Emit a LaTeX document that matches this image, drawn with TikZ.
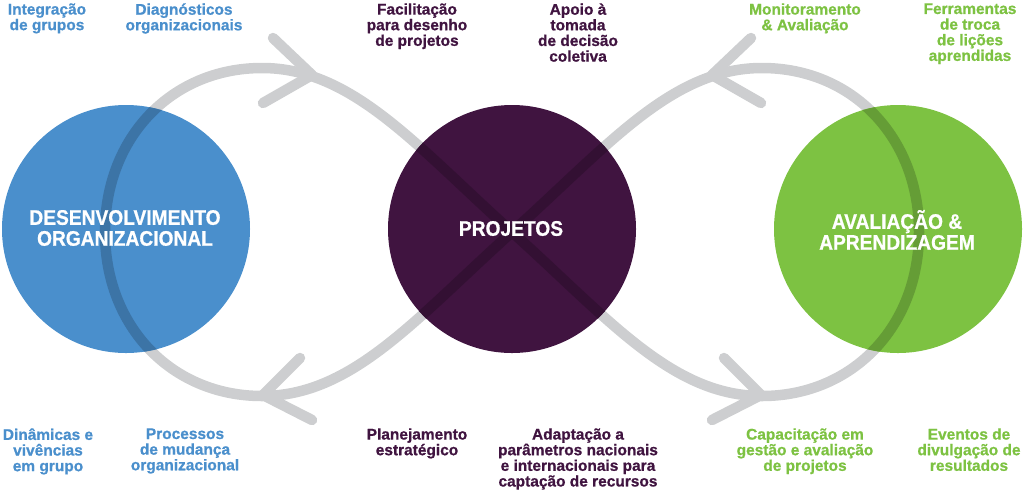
\documentclass[tikz,border=0pt]{standalone}
\usepackage{fontspec}
\setmainfont{Liberation Sans}[BoldFeatures={FakeBold=0.8}]
\newfontfamily\titlefont{Liberation Sans}[FakeStretch=0.91, BoldFeatures={FakeBold=0.8}]
\newcommand\labelfont{\fontsize{8.8}{8.9}\selectfont\bfseries}
\definecolor{cblue}{RGB}{74,143,204}
\definecolor{cpurple}{RGB}{64,20,64}
\definecolor{cgreen}{RGB}{125,194,66}
\definecolor{cgray}{RGB}{205,206,208}
\definecolor{dblue}{RGB}{60,116,166}
\definecolor{dpurple}{RGB}{51,16,51}
\definecolor{dgreen}{RGB}{101,157,54}
\begin{document}
\begin{tikzpicture}[x=0.02cm, y=-0.02cm,
  loopline/.style={line width=0.21cm, line join=round, line cap=round},
  chev/.style={draw=cgray, line width=0.21cm, line cap=round, line join=round},
  lbl/.style={font=\labelfont, align=center, anchor=north, inner sep=0pt},
  ttl/.style={font=\titlefont\fontsize{12}{11.9}\selectfont\bfseries, text=white, align=center, inner sep=0pt},
  eightloop/.style={insert path={(512,232) .. controls (415.4,145) and (352,68) .. (262,68)
     .. controls (172,68) and (105,137) .. (105,232)
     .. controls (105,327) and (172,396) .. (262,396)
     .. controls (352,396) and (415.4,319) .. (512,232)
     .. controls (608.6,145) and (672,68) .. (762,68)
     .. controls (852,68) and (919,137) .. (919,232)
     .. controls (919,327) and (852,396) .. (762,396)
     .. controls (672,396) and (608.6,319) .. (512,232) -- cycle}}]
\useasboundingbox (0,0) rectangle (1024,495);

% gray figure-eight loop
\draw[loopline, draw=cgray, eightloop];

% arrow chevrons
\coordinate (v1) at (312,75); \coordinate (v1a) at (273,38); \coordinate (v1b) at (263,103);
\coordinate (v2) at (263,395); \coordinate (v2a) at (300,358); \coordinate (v2b) at (312,420);
\coordinate (v3) at (712,75); \coordinate (v3a) at (751,38); \coordinate (v3b) at (761,103);
\coordinate (v4) at (761,395); \coordinate (v4a) at (724,358); \coordinate (v4b) at (712,420);
\draw[chev] (v1a) -- (v1) -- (v1b);
\draw[chev] (v2a) -- (v2) -- (v2b);
\draw[chev] (v3a) -- (v3) -- (v3b);
\draw[chev] (v4a) -- (v4) -- (v4b);

% circles
\fill[cblue] (126,229) circle[radius=124];
\fill[cpurple] (512,229) circle[radius=124];
\fill[cgreen] (898,229) circle[radius=124];

% loop seen through the circles
\begin{scope}
\clip (126,229) circle[radius=124];
\draw[loopline, draw=dblue, eightloop];
\end{scope}
\begin{scope}
\clip (512,229) circle[radius=124];
\draw[loopline, draw=dpurple, eightloop];
\end{scope}
\begin{scope}
\clip (898,229) circle[radius=124];
\draw[loopline, draw=dgreen, eightloop];
\end{scope}

% circle titles
\node[ttl] (desenv) at (125,228) {DESENVOLVIMENTO\\ORGANIZACIONAL};
\node[ttl] (proj) at (511,228.5) {PROJETOS};
\node[ttl] (aval) at (897,230) {AVALIAÇÃO \&\\APRENDIZAGEM};

% top labels
\node[lbl, text=cblue] (integ) at (47,3) {Integração\\de grupos};
\node[lbl, text=cblue] (diag) at (184,3) {Diagnósticos\\organizacionais};
\node[lbl, text=cpurple] (facil) at (417,3) {Facilitação\\para desenho\\de projetos};
\node[lbl, text=cpurple] (apoio) at (578,3) {Apoio à\\tomada\\de decisão\\coletiva};
\node[lbl, text=cgreen] (monit) at (805,3) {Monitoramento\\\& Avaliação};
\node[lbl, text=cgreen] (ferr) at (970,3) {Ferramentas\\de troca\\de lições\\aprendidas};

% bottom labels
\node[lbl, text=cblue] (dinam) at (48,428) {Dinâmicas e\\vivências\\em grupo};
\node[lbl, text=cblue] (proc) at (185,428) {Processos\\de mudança\\organizacional};
\node[lbl, text=cpurple] (plan) at (417,428) {Planejamento\\estratégico};
\node[lbl, text=cpurple] (adapt) at (578,428) {Adaptação a\\parâmetros nacionais\\e internacionais para\\captação de recursos};
\node[lbl, text=cgreen] (capac) at (805,428) {Capacitação em\\gestão e avaliação\\de projetos};
\node[lbl, text=cgreen] (event) at (969,428) {Eventos de\\divulgação de\\resultados};
\end{tikzpicture}
\end{document}
